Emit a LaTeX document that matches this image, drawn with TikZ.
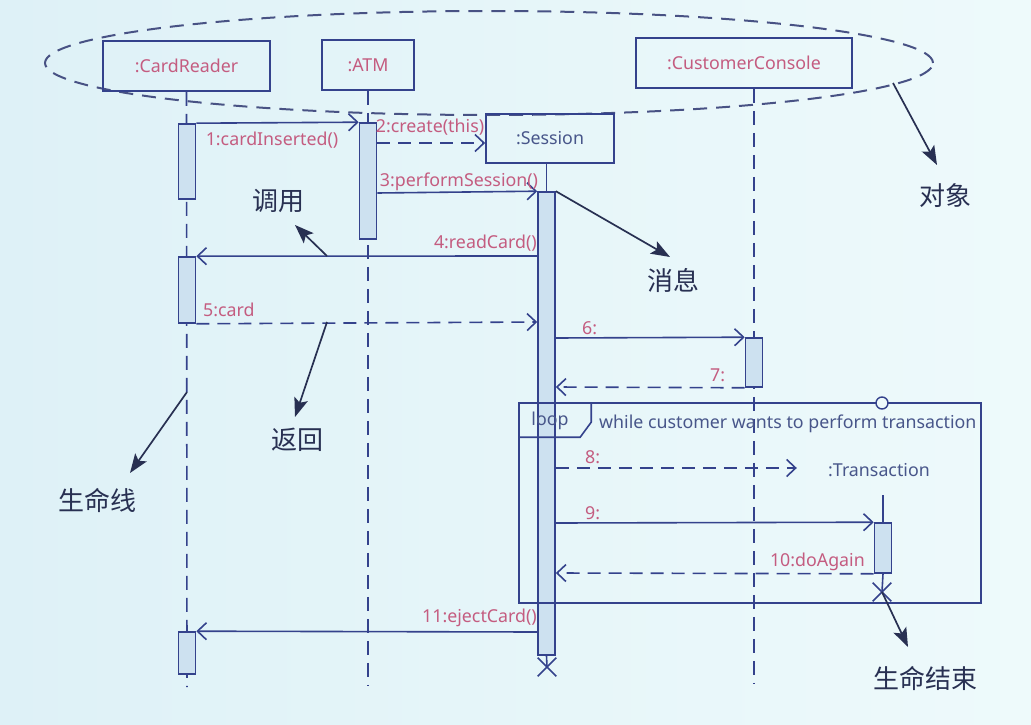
\documentclass[tikz,border=0pt]{standalone}
\usepackage{fontspec}
\setmainfont{Noto Sans}
\newfontfamily\cjk{Noto Sans CJK SC}
\usetikzlibrary{arrows.meta,shapes.geometric,shapes.misc,calc}
\pgfdeclarelayer{back}
\pgfdeclarelayer{lines}
\pgfsetlayers{back,lines,main}
\definecolor{lc}{RGB}{52,66,140}
\definecolor{ellc}{RGB}{72,82,132}
\definecolor{lblc}{RGB}{196,92,128}
\definecolor{actf}{RGB}{205,225,240}
\definecolor{annc}{RGB}{40,48,82}
\definecolor{loopc}{RGB}{72,86,138}
\definecolor{bgL}{RGB}{222,241,247}
\definecolor{bgR}{RGB}{238,250,251}
\tikzset{
  objbox/.style={draw=lc, line width=1.7pt, minimum height=50pt, inner sep=0pt,
    text=lblc, font=\fontsize{17.8}{19}\selectfont},
  actbox/.style={draw=lc, fill=actf, line width=1.6pt, minimum width=17pt, inner sep=0pt},
  life/.style={draw=lc, line width=1.6pt, dash pattern=on 14pt off 8pt},
  solidlife/.style={draw=lc, line width=1.6pt},
  msg/.style={draw=lc, line width=1.6pt, -{Straight Barb[length=9pt,width=17pt,line width=1.6pt]}},
  ret/.style={msg, dash pattern=on 13pt off 8pt},
  mlabel/.style={text=lblc, inner sep=0pt, font=\fontsize{17.8}{19}\selectfont},
  ann/.style={draw=annc, line width=1.7pt, -{Stealth[length=19pt,width=14pt,inset=4pt]}},
  anntext/.style={text=annc, inner sep=0pt, font=\cjk\fontsize{26}{28}\selectfont},
  xmark/.style={cross out, draw=lc, line width=1.6pt, minimum size=17pt, inner sep=0pt},
  frame/.style={draw=lc, line width=1.6pt},
}
\begin{document}
\begin{tikzpicture}[x=1pt,y=-1pt]
\useasboundingbox (0,0) rectangle (1031,725);
\begin{pgfonlayer}{back}
\shade[left color=bgL,right color=bgR] (0,0) rectangle (1031,725);
\end{pgfonlayer}

% objects
\node[ellipse, draw=ellc, line width=2pt, dash pattern=on 14pt off 9pt,
      minimum width=888pt, minimum height=104pt, inner sep=0pt] (ell) at (489,63) {};
\node[objbox, minimum width=167pt] (cr) at (186.5,66) {:CardReader};
\node[objbox, minimum width=92pt] (atm) at (368,65) {:ATM};
\node[objbox, minimum width=216pt] (con) at (744,63) {:CustomerConsole};
\node[objbox, minimum width=128pt, minimum height=49pt, text=loopc] (ses) at (550,138.5) {:Session};
\node[inner sep=0pt, minimum width=164pt, minimum height=50pt, text=loopc,
      font=\fontsize{17.8}{19}\selectfont] (tr) at (879,470) {:Transaction};

% end points of lifelines
\coordinate (crEnd) at (187,687);
\coordinate (atmEnd) at (368,685);
\coordinate (conEnd) at (754,683);

% activations
\node[actbox, minimum height=75pt] (cr1) at (187,161.5) {};
\node[actbox, minimum height=116pt] (atm1) at (368,181) {};
\node[actbox, minimum height=66pt] (cr2) at (187,290) {};
\node[actbox, minimum height=42pt] (cr3) at (187,653) {};
\node[actbox, minimum height=463pt] (s1) at (546.5,423.5) {};
\node[actbox, minimum height=49pt] (con1) at (754,362.5) {};
\node[actbox, minimum height=50pt] (tr1) at (883,548) {};

% end of life marks
\node[xmark] (sx) at (547,667) {};
\node[xmark] (tx) at (882,592) {};

% lifelines (under activations)
\begin{pgfonlayer}{lines}
\draw[life] (cr.south) -- (crEnd);
\draw[life] (atm.south) -- (atmEnd);
\draw[life] (con.south -| con1) -- (conEnd);
\draw[solidlife] (ses.south -| s1) -- (s1.north);
\draw[solidlife] (tr.south -| tr1) -- (tr1.north);
\draw[solidlife] (tr1.south) -- (tx.center);
\draw[solidlife] (s1.south) -- (sx.center);
\end{pgfonlayer}

% message levels
\coordinate (y2) at (0,143);
\coordinate (y3) at (0,193);
\coordinate (y4) at (0,256);
\coordinate (y5) at (0,322);
\coordinate (y6) at (0,338);
\coordinate (y7) at (0,387);
\coordinate (y8) at (0,468);
\coordinate (y9) at (0,523);
\coordinate (y10) at (0,573);
\coordinate (y11) at (0,632);

% messages
\draw[msg] (cr1.north east) -- (atm1.north west);
\draw[ret] (atm1.east |- y2) -- (ses.west |- y2);
\draw[msg] (atm1.east |- y3) -- (s1.north west);
\draw[msg] (s1.west |- y4) -- (cr2.north east);
\draw[ret] (cr2.south east) -- (s1.west |- y5);
\draw[msg] (s1.east |- y6) -- (con1.north west);
\draw[ret] (con1.south west) -- (s1.east |- y7);
\draw[ret] (s1.east |- y8) -- (tr.west |- y8);
\draw[msg] (s1.east |- y9) -- (tr1.north west);
\draw[ret] (tr1.south west) -- (s1.east |- y10);
\draw[msg] (s1.west |- y11) -- (cr3.north east);

% message labels
\node[mlabel] (l1) at (272,140) {1:cardInserted()};
\node[mlabel] (l2) at (430,127) {2:create(this)};
\node[mlabel] (l3) at (459,182) {3:performSession()};
\node[mlabel, anchor=east] (l4) at (537,243) {4:readCard()};
\node[mlabel, anchor=west] (l5) at (203,310) {5:card};
\node[mlabel, anchor=west] (l6) at (582,328) {6:};
\node[mlabel, anchor=west] (l7) at (710,375) {7:};
\node[mlabel, anchor=west] (l8) at (585,457) {8:};
\node[mlabel, anchor=west] (l9) at (585,513) {9:};
\node[mlabel, anchor=east] (l10) at (865,562) {10:doAgain};
\node[mlabel, anchor=east] (l11) at (537,618) {11:ejectCard()};

% loop frame
\node[frame, minimum width=462pt, minimum height=200pt, inner sep=0pt] (loop) at (750,503) {};
\draw[frame] ($(loop.north west)+(73,0)$) -- ++(0,20) -- ++(-11,15) -- ($(loop.north west)+(0,35)$);
\node[text=loopc, inner sep=0pt, font=\fontsize{17.8}{19}\selectfont] (looplbl) at (550,421) {loop};
\node[text=loopc, inner sep=0pt, anchor=west, font=\fontsize{17.8}{19}\selectfont] (guard) at (599,424) {while customer wants to perform transaction};
\node[circle, draw=lc, fill=bgR, line width=1.4pt, minimum size=12pt, inner sep=0pt] (gc) at (882,403) {};

% annotations
\node[anntext] (tObj) at (945,196) {对象};
\node[anntext] (tMsg) at (673,280) {消息};
\node[anntext] (tCall) at (278,201) {调用};
\node[anntext] (tRet) at (297,440) {返回};
\node[anntext] (tLife) at (97,500) {生命线};
\node[anntext] (tEnd) at (925,678) {生命结束};

\coordinate (aObj) at (893,83);
\coordinate (pObj) at (937,165);
\coordinate (pMsg) at (670,257);
\coordinate (aCall) at (327,256);
\coordinate (pCall) at (295,225);
\coordinate (aRet) at (327,322);
\coordinate (pRet) at (295,417);
\coordinate (aLife) at (187,392);
\coordinate (pLife) at (130,473);
\coordinate (pEnd) at (908,647);

\draw[ann] (aObj) -- (pObj);
\draw[ann] (s1.north east) -- (pMsg);
\draw[ann] (aCall) -- (pCall);
\draw[ann] (aRet) -- (pRet);
\draw[ann] (aLife) -- (pLife);
\draw[ann] (tx.center) -- (pEnd);
\end{tikzpicture}
\end{document}
